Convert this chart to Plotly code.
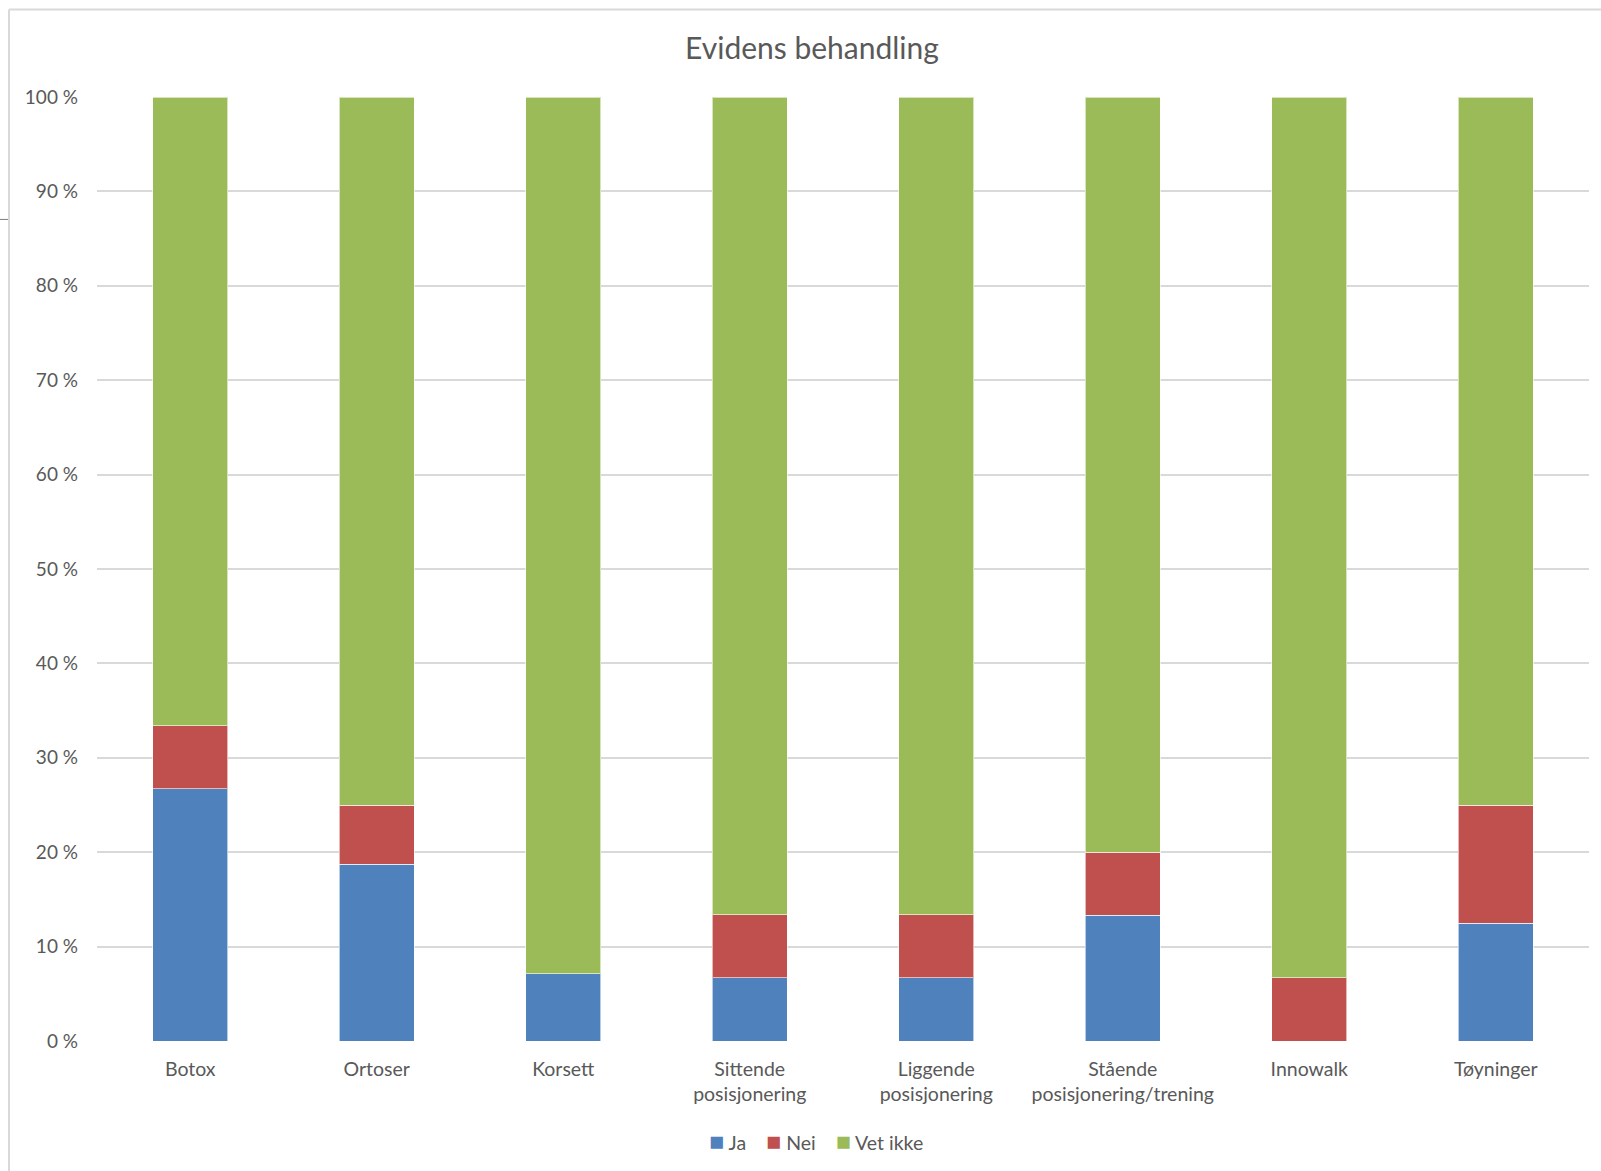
import plotly.graph_objects as go

categories = ["Botox", "Ortoser", "Korsett", "Sittende<br>posisjonering", "Liggende<br>posisjonering",
              "Stående<br>posisjonering/trening", "Innowalk", "Tøyninger"]
ja = [26.7, 18.75, 7.1, 6.7, 6.7, 13.3, 0.0, 12.5]
nei = [6.7, 6.25, 0.0, 6.7, 6.7, 6.7, 6.7, 12.5]
vet_ikke = [66.6, 75.0, 92.9, 86.6, 86.6, 80.0, 93.3, 75.0]
series_names = ["Ja", "Nei", "Vet ikke"]
tick_vals = [0, 10, 20, 30, 40, 50, 60, 70, 80, 90, 100]
tick_text = [f"{v} %" for v in tick_vals]

W, H = 1601, 1171
L, R, T, B = 97, 1589, 96.5, 1041
FONT = "Lato"
TXT = "#595959"
COLORS = ["#4F81BD", "#C0504D", "#9BBB59"]

def px(x):
    return (x - L) / (R - L)

def py(y):
    return (B - y) / (B - T)

fig = go.Figure()
for name, vals, col in zip(series_names, [ja, nei, vet_ikke], COLORS):
    fig.add_trace(go.Bar(x=categories, y=vals, name=name,
                         marker=dict(color=col, line=dict(color="rgba(255,255,255,0.6)", width=1))))

fig.update_layout(
    barmode="stack",
    bargap=0.6,
    width=W, height=H,
    margin=dict(l=L, r=W - R, t=T, b=H - B, pad=0),
    paper_bgcolor="white", plot_bgcolor="white",
    font=dict(family=FONT, color=TXT, size=19),
    title=dict(text="Evidens behandling", font=dict(family=FONT, size=30, color=TXT),
               x=812 / W, xref="container", xanchor="center", y=1 - 48 / H, yref="container", yanchor="middle"),
    showlegend=False,
)
fig.update_yaxes(range=[0, 100], tickvals=tick_vals, ticktext=tick_text, showgrid=True,
                 gridcolor="#D9D9D9", gridwidth=1.5, zeroline=False, showline=False, ticks="",
                 ticklabelstandoff=18, tickfont=dict(size=19, color=TXT))
fig.update_xaxes(showgrid=False, showline=False, zeroline=False, ticks="", tickfont=dict(size=19.5, color=TXT),
                 ticklabelstandoff=14)

# custom compact legend (Excel style)
legend_text = "&nbsp;&nbsp;&nbsp;&nbsp;".join(
    f"<span style='color:{c};font-size:25px'>■</span> {n}" for n, c in zip(series_names, COLORS))
fig.add_annotation(text=legend_text, xref="paper", yref="paper", x=px(816), y=py(1140),
                   xanchor="center", yanchor="middle", showarrow=False,
                   font=dict(family=FONT, size=19.5, color=TXT))

# chart frame lines
shapes = [
    dict(type="line", xref="paper", yref="paper", x0=px(9), x1=px(W), y0=py(9), y1=py(9),
         line=dict(color="#D9D9D9", width=2)),
    dict(type="line", xref="paper", yref="paper", x0=px(9), x1=px(9), y0=py(9), y1=py(H),
         line=dict(color="#D9D9D9", width=2)),
    dict(type="line", xref="paper", yref="paper", x0=px(0), x1=px(8), y0=py(219), y1=py(219),
         line=dict(color="#7F7F7F", width=1)),
]
fig.update_layout(shapes=shapes)

fig.write_html("out.html")
